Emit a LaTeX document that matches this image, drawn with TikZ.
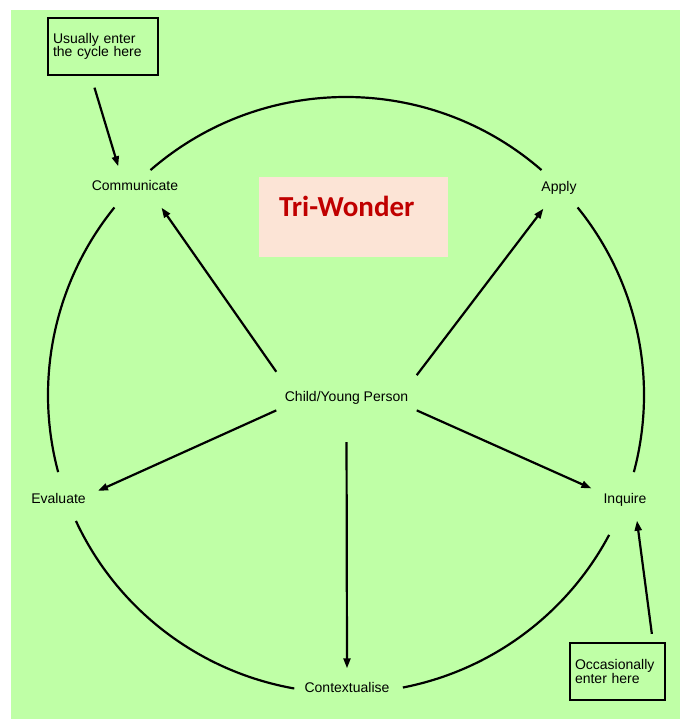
\documentclass[tikz,border=0pt]{standalone}
\usepackage{fontspec}
\setmainfont{Liberation Sans}
\newfontfamily\titlefont{Carlito}
\usepackage{tikz}
\usetikzlibrary{arrows.meta}

\definecolor{bggreen}{RGB}{191,255,166}
\definecolor{titlepink}{RGB}{252,228,214}
\definecolor{titlered}{RGB}{192,0,0}

\begin{document}
\begin{tikzpicture}[x=1pt, y=1pt, >={Triangle[length=10pt,width=7pt]},
	stage/.style={font=\fontsize{14}{14}\selectfont, text height=10pt, text depth=3pt, inner xsep=12pt, inner ysep=14pt},
	note/.style={draw, line width=2.4pt, align=left, inner xsep=5pt, minimum height=57pt, font=\fontsize{14}{13.5}\selectfont},
	ring/.style={line width=2.2pt},
	link/.style={->, line width=2.2pt}]
			\useasboundingbox (0,0) rectangle (680,719);
			\fill[bggreen] (11,0) rectangle (680,709);

			\node[fill=titlepink, text=titlered, font=\titlefont\bfseries\fontsize{29}{29}\selectfont, text width=149pt, align=left, inner xsep=20pt, inner ysep=0pt, text height=40pt, text depth=40pt] (title) at (353.5,502) {Tri-Wonder};

			\node[stage] (comm) at (135,532) {Communicate};
			\node[stage] (apply) at (559,531) {Apply};
			\node[stage] (eval) at (58.5,219) {Evaluate};
			\node[stage] (inq) at (625,219) {Inquire};
			\node[stage] (ctx) at (347,30) {Contextualise};
			\node[font=\fontsize{14}{14}\selectfont, minimum width=140pt, minimum height=52pt, inner sep=0pt] (child) at (346.5,321) {Child/Young Person};

			\coordinate (ctr) at (346,324);
			\foreach \a/\b in {49/131, 141/195, 205/260, 281/332, 345/399}
				\draw[ring] ([shift={(\a:298)}]ctr) arc[start angle=\a, end angle=\b, radius=298];

			\draw[link] (child.north west) -- (comm.-38);
			\draw[link] (child.18) -- (apply.-127);
			\draw[link] (child.190) -- (eval.13);
			\draw[link] (child.-10) -- (inq.161);
			\draw[link, shorten <=18pt] (child.south) -- (ctx.north);

			\node[note, text width=100pt] (usual) at (103,672.5) {Usually enter\\the cycle here};
			\node[note, text width=85pt] (occ) at (617.5,47.5) {Occasionally\\enter here};
			\draw[link, shorten <=12pt] (usual.-112) -- (comm.129);
			\draw[link, shorten <=8pt] (occ.40) -- (inq.-60);
		\end{tikzpicture}
\end{document}
